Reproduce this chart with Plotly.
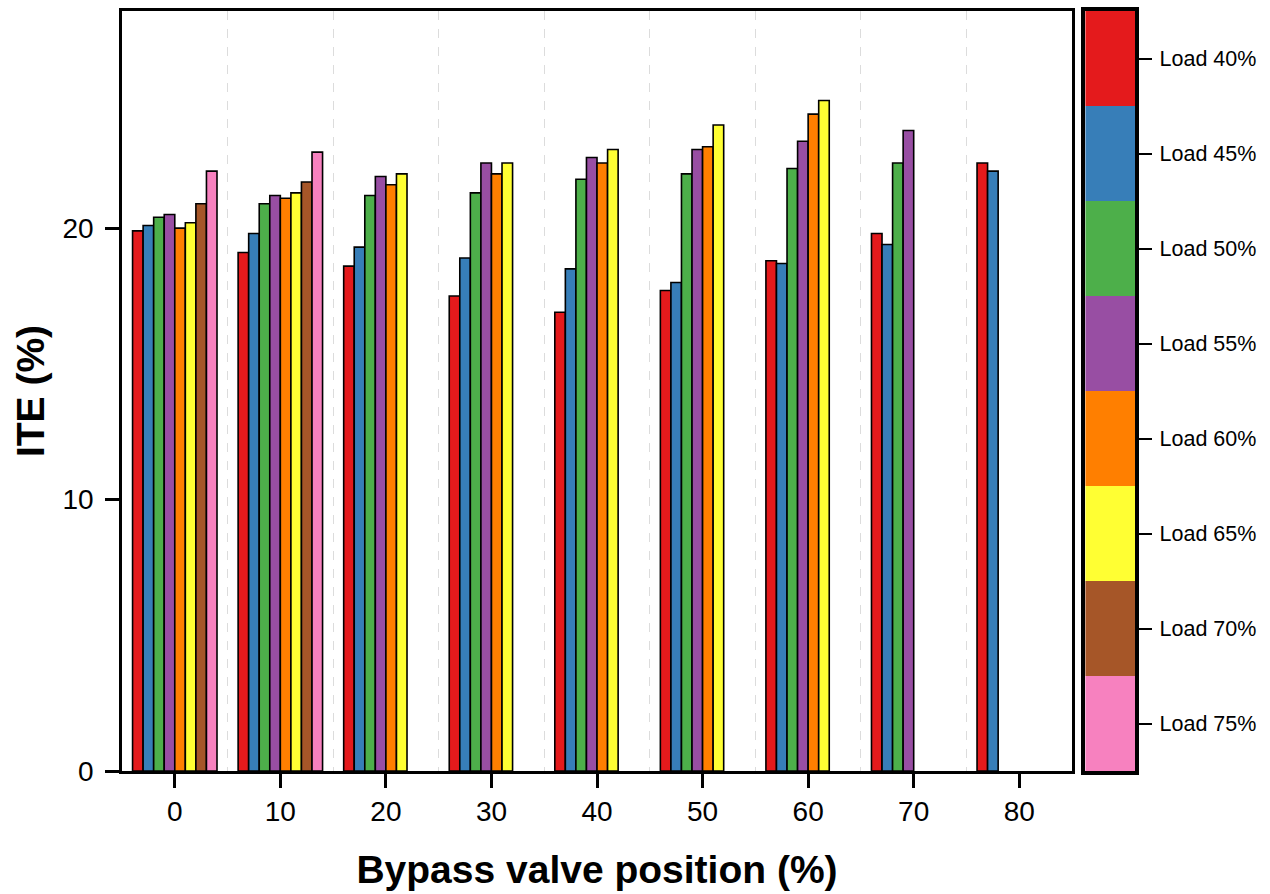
import plotly.graph_objects as go

# Bypass valve position (%) for each group of bars
positions = [0, 10, 20, 30, 40, 50, 60, 70, 80]

# ITE (%) per engine load; None where the load was not tested
load_labels = ["Load 40%", "Load 45%", "Load 50%", "Load 55%",
               "Load 60%", "Load 65%", "Load 70%", "Load 75%"]
ite_load40 = [19.9, 19.1, 18.6, 17.5, 16.9, 17.7, 18.8, 19.8, 22.4]
ite_load45 = [20.1, 19.8, 19.3, 18.9, 18.5, 18.0, 18.7, 19.4, 22.1]
ite_load50 = [20.4, 20.9, 21.2, 21.3, 21.8, 22.0, 22.2, 22.4, None]
ite_load55 = [20.5, 21.2, 21.9, 22.4, 22.6, 22.9, 23.2, 23.6, None]
ite_load60 = [20.0, 21.1, 21.6, 22.0, 22.4, 23.0, 24.2, None, None]
ite_load65 = [20.2, 21.3, 22.0, 22.4, 22.9, 23.8, 24.7, None, None]
ite_load70 = [20.9, 21.7, None, None, None, None, None, None, None]
ite_load75 = [22.1, 22.8, None, None, None, None, None, None, None]

series = [ite_load40, ite_load45, ite_load50, ite_load55,
          ite_load60, ite_load65, ite_load70, ite_load75]
colors = ["#E41A1C", "#377EB8", "#4DAF4A", "#984EA3",
          "#FF7F00", "#FFFF33", "#A65628", "#F781BF"]

x_ticks = [0, 10, 20, 30, 40, 50, 60, 70, 80]
y_ticks = [0, 10, 20]
group_separators = [5, 15, 25, 35, 45, 55, 65, 75]

FONT = "Liberation Sans, Arial, sans-serif"

fig = go.Figure()
for label, vals, col in zip(load_labels, series, colors):
    fig.add_trace(go.Bar(
        x=positions, y=vals, name=label,
        marker=dict(color=col, line=dict(color="black", width=1.6)),
        showlegend=False,
    ))

# Colour key drawn as a one-column heatmap strip with the labels on its axis
n = len(load_labels)
scale = []
for i, col in enumerate(colors):
    scale.append([i / n, col])
    scale.append([(i + 1) / n, col])
fig.add_trace(go.Heatmap(
    z=[[i] for i in range(n)], x=[0], y=list(range(n)),
    zmin=-0.5, zmax=n - 0.5, colorscale=scale, showscale=False,
    xaxis="x2", yaxis="y2", hoverinfo="skip",
))

fig.update_layout(
    width=1270, height=894,
    margin=dict(l=122, r=133, t=7, b=123),
    paper_bgcolor="white", plot_bgcolor="white",
    barmode="group", bargap=0.2, bargroupgap=0,
    font=dict(family=FONT, color="black"),
    xaxis=dict(
        domain=[0, 0.936], range=[-5, 85],
        tickvals=x_ticks, ticks="outside", ticklen=14, tickwidth=2.5,
        tickcolor="black", tickfont=dict(size=28),
        showline=True, linewidth=2.5, linecolor="black", mirror=True,
        showgrid=False, zeroline=False,
        minor=dict(tickvals=group_separators, showgrid=True, ticks="",
                   griddash="dash", gridcolor="#dcdcdc", gridwidth=1),
        title=dict(text="<b>Bypass valve position (%)</b>",
                   font=dict(size=39), standoff=30),
    ),
    yaxis=dict(
        domain=[0, 1], range=[0, 28],
        tickvals=y_ticks, ticks="outside", ticklen=14, tickwidth=2.5,
        tickcolor="black", tickfont=dict(size=28), ticklabelstandoff=6,
        showline=True, linewidth=2.5, linecolor="black", mirror=True,
        showgrid=False, zeroline=False,
        title=dict(text="<b>ITE (%)</b>", font=dict(size=39), standoff=6),
    ),
    xaxis2=dict(
        domain=[0.949, 0.9985], anchor="y2", range=[-0.5, 0.5],
        showticklabels=False, ticks="", showgrid=False, zeroline=False,
        showline=True, linewidth=3.5, linecolor="black", mirror=True,
    ),
    yaxis2=dict(
        domain=[0, 1], anchor="x2", side="right",
        range=[n - 0.5, -0.5],
        tickvals=list(range(n)), ticktext=load_labels,
        ticks="outside", ticklen=13, tickwidth=2, tickcolor="black",
        tickfont=dict(size=21.5), ticklabelstandoff=3,
        showgrid=False, zeroline=False,
        showline=True, linewidth=3.5, linecolor="black", mirror=True,
    ),
)

fig.write_html("out.html")
